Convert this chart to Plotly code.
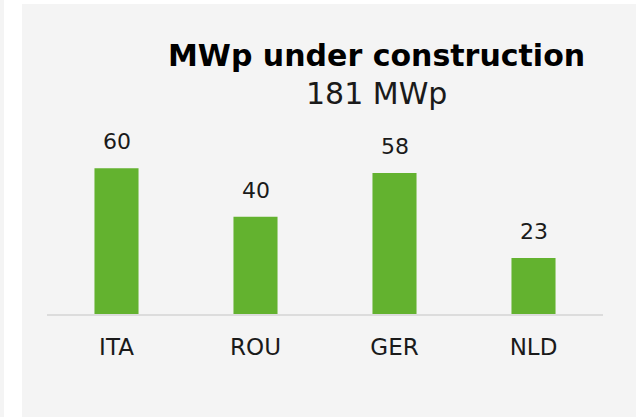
import plotly.graph_objects as go

categories = ["ITA", "ROU", "GER", "NLD"]
values = [60, 40, 58, 23]
title_main = "MWp under construction"
title_sub = "181 MWp"

W, H = 636, 417
FONT = "DejaVu Sans"
TXT = "#1a1a1a"
PANEL = "#f4f4f4"

top, bottom = 120, 103
left, right = 47, 33
plot_h = H - top - bottom
plot_w = W - left - right
scale = 2.43


def px_x(x):
    return (x - left) / plot_w


def px_y(y):
    return (H - bottom - y) / plot_h


fig = go.Figure()
fig.add_trace(go.Bar(
    x=categories, y=values,
    marker=dict(color="#63b22f", line=dict(width=0)),
    hoverinfo="skip",
))

annotations = []
for c, v in zip(categories, values):
    annotations.append(dict(
        x=c, y=v, xref="x", yref="y", text=str(v), showarrow=False,
        yanchor="bottom", yshift=12,
        font=dict(family=FONT, size=22, color=TXT),
    ))
annotations.append(dict(
    x=px_x(376), y=px_y(55), xref="paper", yref="paper", text="<b>" + title_main + "</b>",
    showarrow=False, xanchor="center", yanchor="middle",
    font=dict(family=FONT, size=30, color="#000000"),
))
annotations.append(dict(
    x=px_x(376), y=px_y(93), xref="paper", yref="paper", text=title_sub,
    showarrow=False, xanchor="center", yanchor="middle",
    font=dict(family=FONT, size=30, color=TXT),
))

fig.update_layout(
    width=W, height=H,
    margin=dict(l=left, r=right, t=top, b=bottom, pad=0),
    paper_bgcolor=PANEL,
    plot_bgcolor="rgba(0,0,0,0)",
    showlegend=False,
    bargap=0.683,
    annotations=annotations,
    shapes=[
        # white gap on the left
        dict(type="rect", xref="paper", yref="paper",
             x0=px_x(4), x1=px_x(22), y0=px_y(H + 5), y1=px_y(-5),
             fillcolor="#ffffff", line=dict(width=0), layer="below"),
        # white strip on top
        dict(type="rect", xref="paper", yref="paper",
             x0=px_x(4), x1=px_x(W + 5), y0=px_y(4), y1=px_y(-5),
             fillcolor="#ffffff", line=dict(width=0), layer="below"),
    ],
    xaxis=dict(
        showline=True, linecolor="#dcdcdc", linewidth=2,
        showgrid=False, zeroline=False,
        ticks="outside", ticklen=11, tickcolor="rgba(0,0,0,0)",
        tickfont=dict(family=FONT, size=23, color=TXT),
    ),
    yaxis=dict(
        range=[0, plot_h / scale], visible=False, showgrid=False, zeroline=False,
    ),
)

fig.write_html(
    "out.html",
    config={"displayModeBar": False, "staticPlot": True},
    post_script="document.body.style.margin='0';document.body.style.padding='0';"
                "document.body.style.overflow='hidden';",
)
